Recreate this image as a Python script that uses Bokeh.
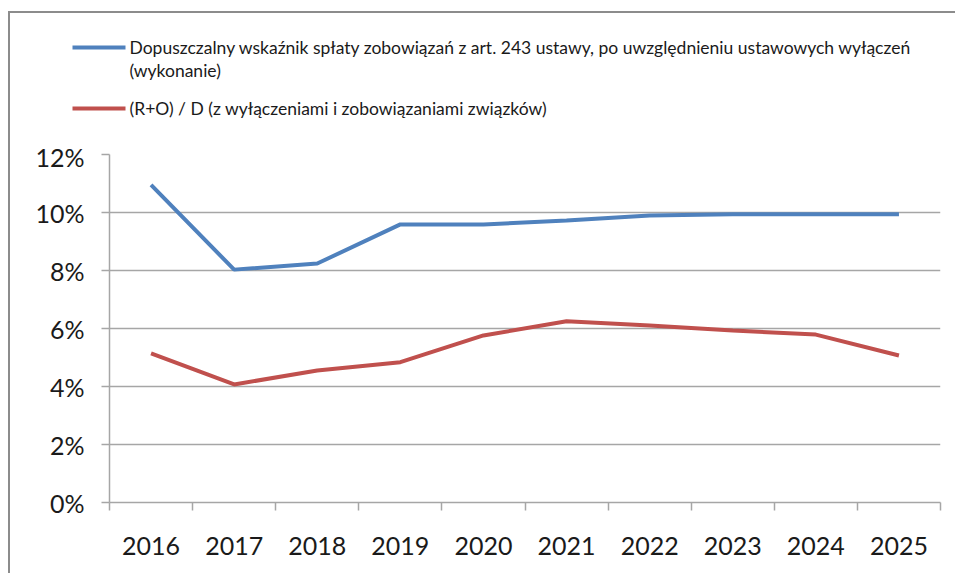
from bokeh.plotting import figure
from bokeh.layouts import column, row
from bokeh.models import FixedTicker, NumeralTickFormatter, Range1d
from bokeh.core.properties import value
from bokeh.embed import file_html
from bokeh.resources import INLINE

years = [2016, 2017, 2018, 2019, 2020, 2021, 2022, 2023, 2024, 2025]
limit_blue = [0.1095, 0.0803, 0.0824, 0.0959, 0.0959, 0.0972, 0.0990, 0.0994, 0.0994, 0.0994]
ratio_red = [0.0514, 0.0407, 0.0455, 0.0484, 0.0576, 0.0625, 0.0610, 0.0593, 0.0579, 0.0507]
y_ticks = [0, 0.02, 0.04, 0.06, 0.08, 0.10, 0.12]
label_blue = ["Dopuszczalny wskaźnik spłaty zobowiązań z art. 243  ustawy, po uwzględnieniu ustawowych wyłączeń",
              "(wykonanie)"]
label_red = ["(R+O) / D (z wyłączeniami i zobowiązaniami związków)"]

FONT = "Lato"
GRID = "#a6a6a6"
BLUE = "#4F81BD"
RED = "#C0504D"
TXT = "#1a1a1a"
W = 937
LEG_H = 128

# ---------- legend strip (pixel coordinates, y downwards) ----------
leg = figure(width=W, height=LEG_H, output_backend="svg", toolbar_location=None,
             x_range=Range1d(0, W), y_range=Range1d(LEG_H, 0),
             min_border=0, min_border_left=0, min_border_right=0,
             min_border_top=0, min_border_bottom=0)
leg.axis.visible = False
leg.grid.visible = False
leg.outline_line_color = None
leg.background_fill_color = "white"
leg.border_fill_color = "white"

leg.line([62, 115], [34, 34], line_color=BLUE, line_width=4)
leg.line([62, 115], [95, 95], line_color=RED, line_width=4)
leg.text(x=[119, 119], y=[34, 57], text=label_blue, text_baseline="middle",
         text_font=value(FONT), text_font_size="17.5px", text_color=TXT)
leg.text(x=[119], y=[95], text=label_red, text_baseline="middle",
         text_font=value(FONT), text_font_size="17.5px", text_color=TXT)

# ---------- main chart ----------
p = figure(width=W, height=432, output_backend="svg", toolbar_location=None,
           x_range=Range1d(years[0] - 0.5, years[-1] + 0.5),
           y_range=Range1d(0, 0.12),
           min_border_left=99, min_border_right=7, min_border_top=13, min_border_bottom=71)
p.outline_line_color = None
p.background_fill_color = "white"
p.border_fill_color = "white"

p.line(years, limit_blue, line_color=BLUE, line_width=4)
p.line(years, ratio_red, line_color=RED, line_width=4)

p.xaxis.ticker = FixedTicker(ticks=years, minor_ticks=[y - 0.5 for y in years] + [years[-1] + 0.5])
p.xaxis.major_tick_out = 0
p.xaxis.major_tick_in = 0
p.xaxis.minor_tick_out = 8
p.xaxis.minor_tick_in = 0
p.xaxis.minor_tick_line_color = GRID
p.xaxis.minor_tick_line_width = 1.5
p.xaxis.axis_line_color = GRID
p.xaxis.axis_line_width = 1.5
p.xaxis.major_label_text_font = FONT
p.xaxis.major_label_text_font_size = "25px"
p.xaxis.major_label_text_color = TXT
p.xaxis.major_label_standoff = 26
p.xgrid.grid_line_color = None

p.yaxis.ticker = FixedTicker(ticks=y_ticks)
p.yaxis.formatter = NumeralTickFormatter(format="0%")
p.yaxis.major_tick_out = 8
p.yaxis.major_tick_in = 0
p.yaxis.minor_tick_line_color = None
p.yaxis.major_tick_line_color = GRID
p.yaxis.major_tick_line_width = 1.5
p.yaxis.axis_line_color = GRID
p.yaxis.axis_line_width = 1.5
p.yaxis.major_label_text_font = FONT
p.yaxis.major_label_text_font_size = "25px"
p.yaxis.major_label_text_color = TXT
p.yaxis.major_label_standoff = 17
p.ygrid.grid_line_color = GRID
p.ygrid.grid_line_width = 1.5

layout = column(row(leg), p, spacing=0)
layout.styles = {"border-left": "2px solid #8c8c8c", "border-top": "2px solid #8c8c8c",
                 "margin-top": "11px", "margin-left": "8px", "padding-right": "8px"}

open("out.html", "w").write(file_html(layout, INLINE))
